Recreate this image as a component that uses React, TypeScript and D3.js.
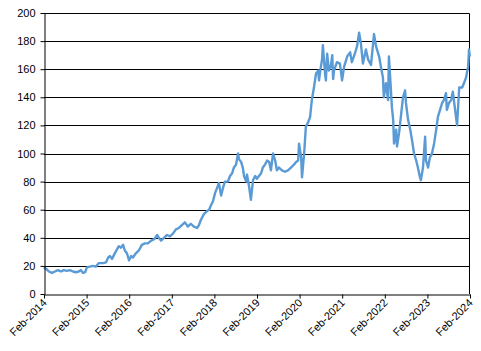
import React, { useEffect, useRef } from 'react';
import * as d3 from 'd3';

// Time as decimal years (Feb-2014 = 2014.08)
const years = [
  2014.08, 2014.13, 2014.20, 2014.27, 2014.34, 2014.41, 2014.48, 2014.55, 2014.62, 2014.69,
  2014.76, 2014.83, 2014.90, 2014.95, 2015.00, 2015.05, 2015.09, 2015.16, 2015.23, 2015.30,
  2015.37, 2015.47, 2015.54, 2015.59, 2015.63, 2015.68, 2015.73, 2015.80, 2015.84, 2015.89,
  2015.94, 2015.98, 2016.03, 2016.08, 2016.13, 2016.17, 2016.24, 2016.31, 2016.38, 2016.45,
  2016.52, 2016.60, 2016.67, 2016.74, 2016.78, 2016.83, 2016.90, 2016.97, 2017.04, 2017.11,
  2017.18, 2017.25, 2017.32, 2017.39, 2017.46, 2017.53, 2017.60, 2017.68, 2017.72, 2017.77,
  2017.84, 2017.91, 2017.96, 2018.00, 2018.05, 2018.10, 2018.14, 2018.19, 2018.24, 2018.29,
  2018.33, 2018.40, 2018.45, 2018.50, 2018.54, 2018.59, 2018.64, 2018.66, 2018.71, 2018.75,
  2018.78, 2018.83, 2018.85, 2018.90, 2018.94, 2018.99, 2019.04, 2019.08, 2019.13, 2019.18,
  2019.22, 2019.27, 2019.32, 2019.37, 2019.41, 2019.46, 2019.51, 2019.55, 2019.60, 2019.67,
  2019.74, 2019.81, 2019.88, 2019.95, 2020.00, 2020.05, 2020.07, 2020.12, 2020.14, 2020.19,
  2020.23, 2020.28, 2020.33, 2020.37, 2020.42, 2020.47, 2020.52, 2020.54, 2020.56, 2020.61,
  2020.63, 2020.68, 2020.70, 2020.73, 2020.77, 2020.82, 2020.85, 2020.87, 2020.89, 2020.96,
  2021.03, 2021.08, 2021.13, 2021.20, 2021.27, 2021.31, 2021.38, 2021.43, 2021.48, 2021.52,
  2021.57, 2021.64, 2021.69, 2021.76, 2021.83, 2021.88, 2021.95, 2021.99, 2022.04, 2022.06,
  2022.11, 2022.16, 2022.18, 2022.21, 2022.25, 2022.28, 2022.30, 2022.35, 2022.37, 2022.42,
  2022.46, 2022.51, 2022.56, 2022.58, 2022.63, 2022.68, 2022.72, 2022.77, 2022.82, 2022.86,
  2022.91, 2022.93, 2022.98, 2023.03, 2023.05, 2023.10, 2023.14, 2023.19, 2023.24, 2023.29,
  2023.33, 2023.38, 2023.43, 2023.47, 2023.52, 2023.54, 2023.59, 2023.64, 2023.68, 2023.73,
  2023.78, 2023.83, 2023.90, 2023.94, 2023.99, 2024.04, 2024.06, 2024.08,
];

const values = [
  19, 18, 16, 15, 16, 17, 16, 17, 16.5, 17,
  16, 15.5, 16, 17, 15, 15.5, 19, 19.5, 20, 19.5,
  22, 22, 22.5, 26, 27, 25, 28, 32, 34, 33,
  35, 31, 29, 24, 27, 26, 29, 31, 35, 36,
  36, 38, 39, 42, 40, 38, 40, 42, 41, 43,
  46, 47, 49, 51, 48, 50, 48, 47, 49, 53,
  57, 59, 60, 63, 66, 72, 75, 79, 70, 76,
  80, 80, 84, 86, 90, 92, 100, 96, 94, 90,
  84, 80, 85, 76, 67, 81, 84, 82, 84, 86,
  90, 92, 95, 94, 88, 100, 95, 88, 90, 88,
  87, 88, 90, 92, 94, 95, 107, 97, 83, 100,
  119, 122, 126, 138, 147, 157, 159, 152, 157, 167,
  177, 157, 152, 171, 159, 163, 170, 153, 159, 165,
  164, 152, 162, 169, 172, 165, 171, 176, 186, 179,
  164, 174, 167, 163, 185, 176, 169, 162, 154, 140,
  150, 138, 169, 154, 133, 124, 107, 117, 105, 115,
  126, 140, 145, 136, 124, 117, 110, 100, 95, 90,
  83, 81, 90, 112, 95, 90, 97, 100, 107, 117,
  126, 131, 136, 138, 143, 131, 136, 138, 144, 132,
  120, 147, 147, 150, 154, 162, 174, 169,
];

const tickYears = [2014, 2015, 2016, 2017, 2018, 2019, 2020, 2021, 2022, 2023, 2024];
const yTicks = [0, 20, 40, 60, 80, 100, 120, 140, 160, 180, 200];

const LINE_COLOR = '#5b9bd5';

export default function App() {
  const svgRef = useRef<SVGSVGElement>(null);
  const width = 481;
  const height = 351;

  useEffect(() => {
    const svg = d3.select(svgRef.current);
    svg.selectAll('*').remove();

    const margin = { top: 13, right: 11, bottom: 57, left: 44 };
    const innerWidth = width - margin.left - margin.right;
    const innerHeight = height - margin.top - margin.bottom;

    const g = svg.append('g').attr('transform', `translate(${margin.left},${margin.top})`);

    const x = d3.scaleLinear().domain([2014 + 1 / 12, 2024 + 1 / 12]).range([0, innerWidth]);
    const y = d3.scaleLinear().domain([0, 200]).range([innerHeight, 0]);

    // gridlines
    g.append('g')
      .selectAll('line')
      .data(yTicks.filter(t => t > 0 && t < 200))
      .enter()
      .append('line')
      .attr('x1', 0)
      .attr('x2', innerWidth)
      .attr('y1', d => Math.round(y(d)) + 0.5)
      .attr('y2', d => Math.round(y(d)) + 0.5)
      .attr('stroke', '#000')
      .attr('stroke-width', 1);

    // frame (top + right)
    g.append('path')
      .attr('d', `M0,0.5H${innerWidth - 0.5}V${innerHeight}`)
      .attr('fill', 'none')
      .attr('stroke', '#000');

    // line
    const line = d3.line<number>()
      .x((_, i) => x(years[i]))
      .y(d => y(d));

    g.append('path')
      .datum(values)
      .attr('d', line)
      .attr('fill', 'none')
      .attr('stroke', LINE_COLOR)
      .attr('stroke-width', 2.4)
      .attr('stroke-linejoin', 'round');

    // y axis
    const yAxis = d3.axisLeft(y).tickValues(yTicks).tickSize(4).tickSizeOuter(0).tickPadding(5);
    const ya = g.append('g').attr('transform', 'translate(0.5,0)').call(yAxis);
    ya.select('.domain').attr('stroke', '#000');
    ya.selectAll('line').attr('stroke', '#000');
    ya.selectAll('text')
      .style('font-family', 'Liberation Sans, Arial, sans-serif')
      .style('font-size', '11px')
      .style('fill', '#000');

    // x axis
    const xAxis = d3.axisBottom(x)
      .tickValues(tickYears.map(t => t + 1 / 12))
      .tickFormat((d, i) => `Feb-${tickYears[i]}`)
      .tickSize(4)
      .tickSizeOuter(0);
    const xa = g.append('g').attr('transform', `translate(0,${innerHeight + 0.5})`).call(xAxis);
    xa.select('.domain').attr('stroke', '#000');
    xa.selectAll('line').attr('stroke', '#000');
    xa.selectAll('text')
      .attr('y', 0)
      .attr('dy', 0)
      .attr('transform', 'translate(3,9) rotate(-45)')
      .style('text-anchor', 'end')
      .style('font-family', 'Liberation Sans, Arial, sans-serif')
      .style('font-size', '11px')
      .style('fill', '#000');
  }, []);

  return (
    <div style={{ position: 'absolute', left: 0, top: 0, background: '#fff' }}>
      <svg ref={svgRef} width={width} height={height} style={{ display: 'block' }} />
    </div>
  );
}
